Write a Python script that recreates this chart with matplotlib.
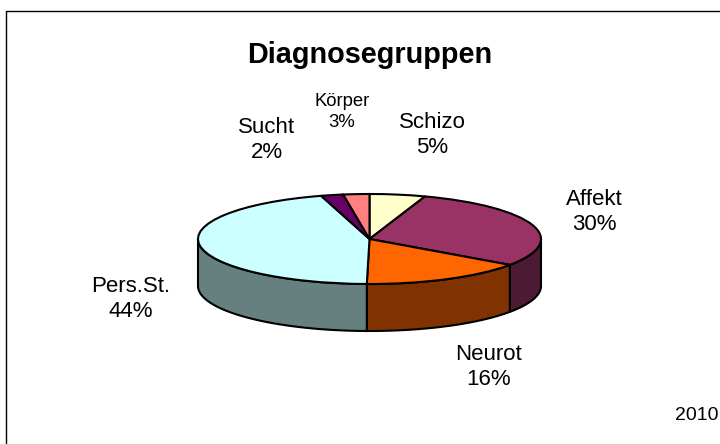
import numpy as np
import matplotlib
matplotlib.use("Agg")
import matplotlib.pyplot as plt
from matplotlib.lines import Line2D

plt.rcParams['font.family'] = ['Liberation Sans', 'DejaVu Sans']

title = "Diagnosegruppen"
corner_note = "2010"
categories = ["Schizo", "Affekt", "Neurot", "Pers.St.", "Sucht", "Körper"]
percent_labels = ["5%", "30%", "16%", "44%", "2%", "3%"]
# slice shares as drawn on the tilted pie
shares = [5.25, 29.5, 15.5, 45.2, 2.1, 2.45]
top_colors = ["#FFFFCC", "#993366", "#FF6600", "#CCFFFF", "#660066", "#FF8080"]
side_colors = ["#808066", "#4D1A33", "#803300", "#668080", "#330033", "#804040"]

W, H = 720, 444
CX, CY, RX, RY, DEPTH = 369.5, 239.0, 171.5, 45.0, 47.0

fig = plt.figure(figsize=(W / 100, H / 100), dpi=100, facecolor="white")
ax = fig.add_axes([0, 0, 1, 1])

wedges, _ = ax.pie(shares, colors=top_colors, startangle=90, counterclock=False,
                   radius=1, center=(0, 0),
                   wedgeprops=dict(edgecolor="black", linewidth=1.5), normalize=True)
for w in wedges:
    w.set_zorder(3)

ax.set_aspect("auto")
ax.set_xlim(-CX / RX, (W - CX) / RX)
ax.set_ylim((CY - H) / RY, CY / RY)
ax.set_axis_off()

depth = DEPTH / RY
edges = 360 * np.concatenate([[0], np.cumsum(shares)]) / np.sum(shares)
for a0, a1, c in zip(edges[:-1], edges[1:], side_colors):
    lo, hi = max(a0, 90), min(a1, 270)
    if lo >= hi:
        continue
    t = np.radians(np.linspace(lo, hi, 80))
    x, y = np.sin(t), np.cos(t)
    ax.fill(np.r_[x, x[::-1]], np.r_[y, y[::-1] - depth], facecolor=c,
            edgecolor="black", linewidth=1.5, zorder=2, joinstyle="round")

def px(x, y):
    return (x - CX) / RX, (CY - y) / RY

label_pos = [(432, 134.5), (594, 211.5), (489, 367), (131, 298.5), (267, 140), (342, 112)]
label_size = [16.0, 16.0, 16.0, 16.0, 16.0, 13.3]
for name, pct, (lx, ly), fs in zip(categories, percent_labels, label_pos, label_size):
    ax.text(*px(lx, ly), f"{name}\n{pct}", ha="center", va="center", fontsize=fs,
            linespacing=1.25, color="black", zorder=5)

ax.text(*px(369.5, 55), title, ha="center", va="center", fontsize=20.8,
        fontweight="bold", color="black", zorder=5)
ax.text(*px(697, 415), corner_note, ha="center", va="center", fontsize=14, color="black", zorder=5)

fig.add_artist(Line2D([5.5 / W, 5.5 / W, 1], [0, 1 - 11 / H, 1 - 11 / H],
                      transform=fig.transFigure, color="black", linewidth=1))
fig.savefig("out.png", dpi=100, facecolor="white")
